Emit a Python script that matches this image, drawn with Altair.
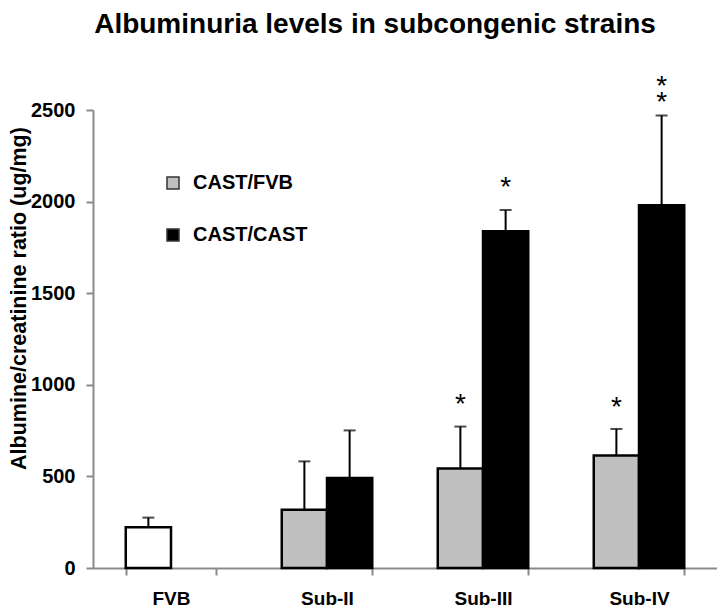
import altair as alt
import pandas as pd

strains = ["FVB", "Sub-II", "Sub-III", "Sub-IV"]
slots = ["CAST/FVB", "CAST/CAST"]

bar_strain = ["FVB", "Sub-II", "Sub-II", "Sub-III", "Sub-III", "Sub-IV", "Sub-IV"]
bar_slot = ["CAST/FVB", "CAST/FVB", "CAST/CAST", "CAST/FVB", "CAST/CAST", "CAST/FVB", "CAST/CAST"]
bar_group = ["FVB", "CAST/FVB", "CAST/CAST", "CAST/FVB", "CAST/CAST", "CAST/FVB", "CAST/CAST"]
bar_mean = [222, 318, 491, 543, 1838, 614, 1980]
bar_upper = [275, 582, 751, 772, 1954, 759, 2470]

star_strain = ["Sub-III", "Sub-III", "Sub-IV", "Sub-IV"]
star_slot = ["CAST/FVB", "CAST/CAST", "CAST/FVB", "CAST/CAST"]
star_y = [928, 2112, 913, 2664]
star_text = ["*", "*", "*", "*\n*"]

bars_df = pd.DataFrame({"strain": bar_strain, "slot": bar_slot, "group": bar_group,
                        "mean": bar_mean, "upper": bar_upper})
stars_df = pd.DataFrame({"strain": star_strain, "slot": star_slot, "y": star_y, "t": star_text})

FONT = "Liberation Sans"

x_enc = alt.X("strain:N",
              scale=alt.Scale(domain=strains, paddingInner=0.42, paddingOuter=0.21),
              axis=alt.Axis(title=None, labelAngle=0, tickBand="extent", tickSize=7,
                            domainColor="#8a8a8a", tickColor="#8a8a8a", domainWidth=2, tickWidth=2,
                            labelFont=FONT, labelFontSize=19, labelFontWeight="bold",
                            labelColor="black", labelPadding=14))
xo_enc = alt.XOffset("slot:N", scale=alt.Scale(domain=slots, paddingInner=0, paddingOuter=0))

y_scale = alt.Scale(domain=[0, 2500], nice=False, zero=True)

bars = alt.Chart(bars_df).mark_bar(stroke="black", strokeWidth=2.5).encode(
    x=x_enc,
    xOffset=xo_enc,
    y=alt.Y("mean:Q", scale=y_scale,
            axis=alt.Axis(values=[0, 500, 1000, 1500, 2000, 2500], grid=False, format="d",
                          title="Albumine/creatinine ratio (ug/mg)",
                          titleFont=FONT, titleFontSize=21.5, titleFontWeight="bold",
                          titleColor="black", titleX=-74, titleY=188, titleBaseline="middle",
                          titleAngle=270, titleAlign="center",
                          tickSize=7, domainColor="#8a8a8a", tickColor="#8a8a8a",
                          domainWidth=2, tickWidth=2,
                          labelFont=FONT, labelFontSize=20, labelFontWeight="bold",
                          labelColor="black", labelPadding=11)),
    fill=alt.Fill("group:N",
                  scale=alt.Scale(domain=["CAST/FVB", "CAST/CAST", "FVB"],
                                  range=["#c0c0c0", "#000000", "#ffffff"]),
                  legend=alt.Legend(values=["CAST/FVB", "CAST/CAST"], title=None,
                                    orient="none", legendX=70, legendY=63, padding=0,
                                    symbolType="square", symbolSize=144,
                                    symbolStrokeColor="#333333", symbolStrokeWidth=1.5,
                                    labelFont=FONT, labelFontSize=20, labelFontWeight="bold",
                                    labelColor="black", labelOffset=10, rowPadding=32)),
)

rules = alt.Chart(bars_df).mark_rule(color="black", strokeWidth=2).encode(
    x=x_enc, xOffset=xo_enc, y="mean:Q", y2="upper:Q")

caps = alt.Chart(bars_df).mark_tick(color="black", thickness=2, size=12).encode(
    x=x_enc, xOffset=xo_enc, y="upper:Q")

stars = alt.Chart(stars_df).mark_text(font=FONT, fontSize=28, color="black",
                                      baseline="middle", dy=7, lineBreak="\n",
                                      lineHeight=16).encode(
    x=x_enc, xOffset=xo_enc, y="y:Q", text="t:N")

chart = alt.layer(bars, rules, caps, stars).properties(
    width=624, height=458,
    title=alt.TitleParams("Albuminuria levels in subcongenic strains", font=FONT,
                          fontSize=28, fontWeight="bold", color="black", dx=-30,
                          frame="group", offset=34),
    autosize=alt.AutoSizeParams(type="none"),
    padding={"left": 85, "top": 102, "right": 0, "bottom": 40},
).configure_view(stroke=None)

chart.save("out.html", embed_options={"renderer": "svg", "actions": False})
